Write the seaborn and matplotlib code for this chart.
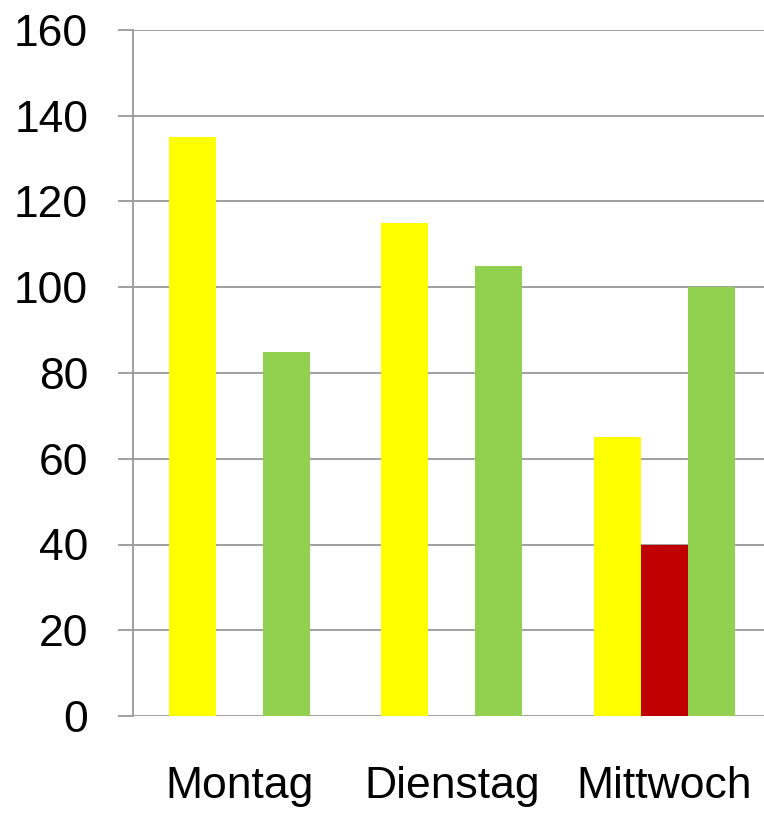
import matplotlib
matplotlib.use("Agg")
import matplotlib.pyplot as plt
import seaborn as sns
import pandas as pd
import numpy as np

days = ["Montag", "Dienstag", "Mittwoch"]
series = ["Gelb", "Rot", "Grün"]
gelb = [135, 115, 65]
rot = [np.nan, np.nan, 40]
gruen = [85, 105, 100]
yticks = [0, 20, 40, 60, 80, 100, 120, 140, 160]
colors = ["#FFFF00", "#C00000", "#92D050"]

rows = []
for name, vals in zip(series, [gelb, rot, gruen]):
    for d, v in zip(days, vals):
        rows.append({"Tag": d, "Serie": name, "Wert": v})
df = pd.DataFrame(rows)

sns.set_style("white")
plt.rcParams["font.family"] = ["Liberation Sans", "DejaVu Sans"]

fig = plt.figure(figsize=(7.64, 8.13), dpi=100)
ax = fig.add_axes([133 / 764, 1 - 716 / 813, 637.5 / 764, 686 / 813])

sns.barplot(data=df.dropna(), x="Tag", y="Wert", hue="Serie", hue_order=series,
            order=days, palette=colors, width=0.664, linewidth=0, saturation=1,
            legend=False, ax=ax, errorbar=None)

ax.set_xlim(-0.5, 2.5)
ax.set_ylim(0, 160)
ax.set_yticks(yticks)
ax.set_yticklabels([str(t) for t in yticks])
ax.set_axisbelow(True)
ax.yaxis.grid(True, color="#999999", linewidth=1.3)
ax.xaxis.grid(False)
for s in ["top", "right", "bottom"]:
    ax.spines[s].set_visible(False)
ax.spines["left"].set_color("#999999")
ax.spines["left"].set_linewidth(1.3)

ax.set_xticks([-0.5, 0.5, 1.5, 2.5], minor=True)
ax.set_xticks([0, 1, 2])
ax.set_xticklabels(days)
ax.tick_params(axis="x", which="major", length=0, pad=36, labelsize=32, colors="black")
ax.tick_params(axis="x", which="minor", length=10.5, width=1.3, color="#999999", direction="out")
ax.tick_params(axis="y", length=10.8, width=1.3, color="#999999", pad=21.5, labelsize=32, labelcolor="black", direction="out", left=True)
ax.set_xlabel("")
ax.set_ylabel("")

fig.savefig("out.png", dpi=100)
